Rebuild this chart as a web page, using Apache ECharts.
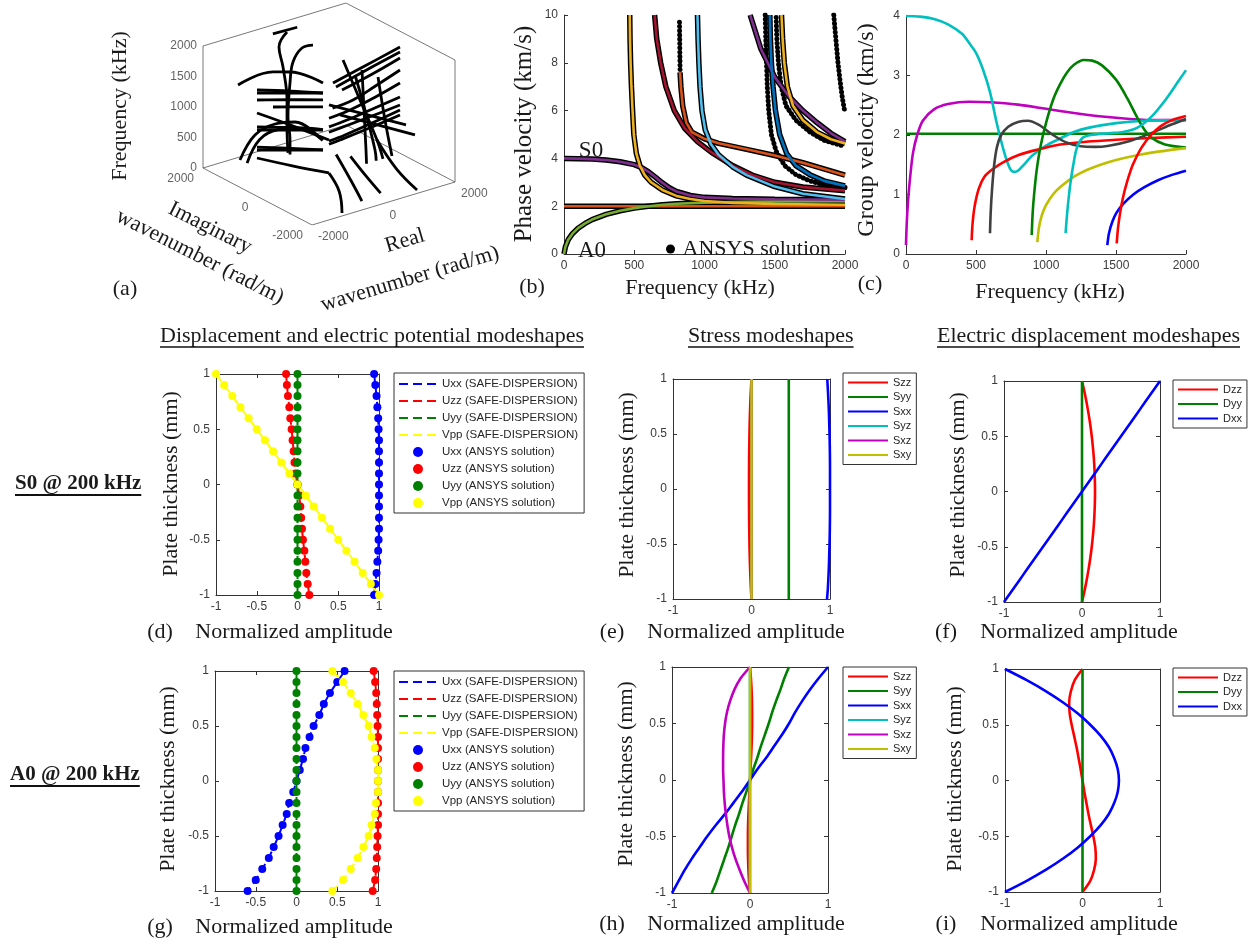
<!DOCTYPE html>
<html><head><meta charset="utf-8">
<script src="https://cdn.jsdelivr.net/npm/echarts@6/dist/echarts.min.js"></script>
<style>html,body{margin:0;padding:0;background:#fff}#c{width:1255px;height:944px}</style>
</head><body><div id="c"></div><script>
// ---------------- (a) 3D complex dispersion curves  [real k, imag k, frequency] ----------------
const aReRange = [-2000, 2000], aImRange = [-2000, 2000], aFRange = [0, 2000];
const aTickF = [0, 500, 1000, 1500, 2000];
const aTickIm = [-2000, 0, 2000];
const aTickRe = [-2000, 0, 2000];
const aModes = [
  [[112,0,1488],[1000,0,1610],[1986,0,1748]],
  [[196,0,1408],[1000,0,1530],[1986,0,1666]],
  [[364,0,1329],[1200,0,1440],[1986,0,1568]],
  [[100,0,1080],[671,0,1111],[1300,0,1230],[1986,0,1371]],
  [[0,0,930],[587,0,962],[1300,0,1050],[1986,0,1158]],
  [[0,0,790],[503,0,813],[1200,0,865],[1986,0,929]],
  [[0,0,700],[392,0,718],[1200,0,755],[1986,0,797]],
  [[0,0,555],[448,0,577],[1200,0,640],[1986,0,716]],
  [[0,0,505],[308,0,520],[1200,0,575],[1986,0,634]],
  [[-1444,1444,1393],[-889,889,1638],[-619,619,1653],[-95,95,1503]],
  [[-1143,1143,1328],[-600,600,1340],[-95,95,1339]],
  [[-1143,1143,1279],[-600,600,1310],[-95,95,1339]],
  [[-1143,1143,1164],[-600,600,1200],[-95,95,1225]],
  [[-889,889,1064],[-450,450,1090],[-95,95,1110]],
  [[-1143,1143,721],[-800,800,735],[-413,413,747],[-95,95,740]],
  [[-1143,1143,672],[-600,600,700],[-95,95,732]],
  [[-1143,1143,393],[-600,600,400],[-95,95,405]],
  [[-1143,1143,344],[-600,600,372],[-95,95,404]],
  [[-1143,1143,213],[-600,600,120],[0,0,33]],
  [[-1143,1143,951],[-600,600,780],[0,0,574]],
  [[-1413,1413,165],[-1175,1175,588],[-857,857,787],[-540,540,838],[-143,143,598]],
  [[-1300,1300,120],[-1100,1100,520],[-800,800,700],[-450,450,740],[-100,100,560]],
  [[0,1541,1984],[0,1835,1670],[0,1688,1376],[0,1541,869],[0,1541,427],[0,1505,10]],
  [[0,587,1993],[0,991,1850],[0,1321,1544],[0,1431,1174],[0,1505,600],[0,1431,240],[0,1430,0]],
  [[-350,1600,2000],[330,1600,1990]],
  [[392,0,1816],[867,0,1077],[1343,0,337],[1510,0,0]],
  [[727,0,1511],[1007,0,888],[1287,0,184],[1320,0,0]],
  [[923,0,1559],[979,0,893],[1035,0,228],[1050,0,0]],
  [[1371,0,1365],[1566,0,626],[1762,0,0]],
  [[0,0,30],[-400,-900,10],[-1060,-1868,0]],
  [[600,0,200],[500,-700,60],[300,-1500,0]],
  [[200,0,300],[0,-800,100],[-300,-1600,0]],
  [[1343,0,337],[1200,-900,100],[1054,-1848,0]],
  [[0,0,1150],[344,-960,1150],[688,-1923,1150]],
  [[308,0,930],[634,-948,930],[960,-1896,930]]
];
// ---------------- (b) phase velocity [kHz, km/s] ----------------
const bS0  = [[0,4.0],[100,3.99],[200,3.97],[300,3.93],[400,3.86],[500,3.74],[550,3.62],[600,3.45],[650,3.22],[700,2.98],[750,2.77],[800,2.62],[900,2.45],[1000,2.37],[1200,2.32],[1500,2.29],[2000,2.27]];
const bA0  = [[0,0],[10,0.3],[30,0.6],[60,0.85],[100,1.08],[150,1.28],[200,1.44],[300,1.66],[400,1.81],[500,1.92],[600,2.0],[700,2.06],[800,2.1],[1000,2.15],[1300,2.18],[1600,2.2],[2000,2.21]];
const bSH0 = [[0,2.0],[500,2.0],[1000,2.0],[1500,2.0],[2000,2.0]];
const bM1  = [[468,10],[470,9],[474,8],[480,7],[488,6],[497,5],[515,4.2],[540,3.7],[575,3.3],[620,3.0],[700,2.68],[800,2.43],[900,2.3],[1000,2.22],[1200,2.14],[1500,2.09],[2000,2.06]];
const bM2  = [[645,10],[660,9],[688,8],[725,7],[785,6],[860,5.25],[950,4.7],[1050,4.25],[1200,3.7],[1350,3.28],[1500,3.0],[1700,2.8],[2000,2.65]];
const bM3  = [[950,10],[954,9],[960,8],[968,7],[982,6],[1005,5.2],[1045,4.6],[1100,4.15],[1200,3.65],[1300,3.3],[1500,2.82],[1700,2.52],[2000,2.3]];
const bM4  = [[826,7.6],[832,7.0],[845,6.2],[870,5.5],[910,5.1],[1000,4.82],[1100,4.63],[1300,4.38],[1500,4.12],[1700,3.82],[1850,3.56],[2000,3.3]];
const bM5  = [[1325,10],[1400,8.6],[1500,7.4],[1600,6.6],[1700,6.0],[1800,5.5],[1900,5.05],[2000,4.7]];
const bM6  = [[1465,10],[1469,9],[1476,8],[1488,7],[1505,6],[1535,5],[1585,4.2],[1650,3.7],[1750,3.32],[1850,3.06],[2000,2.85]];
const bM7  = [[1548,10],[1556,9],[1568,8],[1590,7],[1630,6.2],[1700,5.6],[1800,5.1],[1900,4.8],[2000,4.62]];
const bK0  = [[822,9.7],[823,9.2],[824,8.7],[825,8.2],[826,7.7]];
const bK1  = [[1432,10],[1436,9],[1441,8],[1447,7],[1457,6],[1476,5],[1510,4.3],[1570,3.7],[1650,3.32],[1750,3.06],[1850,2.9],[2000,2.78]];
const bK2  = [[1510,9.9],[1515,9],[1526,8],[1546,7],[1580,6.2],[1650,5.6],[1750,5.1],[1850,4.76],[2000,4.5]];
const bK3  = [[1920,10],[1935,9],[1950,8],[1966,7.2],[1982,6.5],[2000,5.9]];
// ---------------- (c) group velocity [kHz, km/s] ----------------
const cCyan1 = [[0,4.0],[100,3.99],[200,3.95],[300,3.86],[400,3.7],[450,3.55],[500,3.38],[550,3.1],[600,2.72],[650,2.18],[700,1.72],[740,1.45],[770,1.38],[800,1.4],[850,1.52],[900,1.65],[1000,1.82],[1100,1.94],[1200,2.05],[1300,2.12],[1500,2.2],[1700,2.24],[2000,2.25]];
const cMag   = [[0,0.15],[5,0.5],[15,0.9],[30,1.3],[50,1.7],[80,2.0],[120,2.24],[200,2.43],[300,2.52],[450,2.56],[600,2.55],[800,2.51],[1000,2.44],[1200,2.37],[1400,2.31],[1600,2.27],[1800,2.25],[2000,2.25]];
const cGreen1 = [[0,2.02],[1000,2.02],[2000,2.02]];
const cGreen2 = [[898,0.32],[905,0.7],[915,1.0],[933,1.4],[960,1.8],[1000,2.2],[1052,2.6],[1100,2.85],[1150,3.05],[1200,3.18],[1270,3.26],[1330,3.25],[1400,3.17],[1500,2.93],[1580,2.62],[1650,2.3],[1700,2.1],[1750,1.96],[1850,1.84],[2000,1.79]];
const cGray  = [[600,0.35],[605,0.7],[615,1.1],[630,1.5],[650,1.8],[680,2.0],[730,2.14],[800,2.22],[870,2.24],[950,2.17],[1050,2.0],[1150,1.87],[1250,1.81],[1350,1.8],[1450,1.82],[1600,1.9],[1750,2.03],[1900,2.18],[2000,2.27]];
const cRed1  = [[469,0.23],[475,0.5],[490,0.8],[520,1.1],[560,1.3],[620,1.43],[700,1.55],[800,1.66],[933,1.75],[1100,1.84],[1300,1.89],[1500,1.92],[1750,1.95],[2000,1.97]];
const cOlive = [[938,0.2],[950,0.45],[970,0.65],[1000,0.82],[1050,1.0],[1100,1.12],[1200,1.3],[1300,1.42],[1400,1.51],[1500,1.58],[1650,1.66],[1800,1.72],[2000,1.78]];
const cBlue  = [[1438,0.15],[1450,0.35],[1475,0.55],[1505,0.7],[1550,0.84],[1624,1.0],[1700,1.12],[1800,1.24],[1900,1.33],[2000,1.4]];
const cRed2  = [[1505,0.18],[1515,0.45],[1530,0.7],[1550,0.95],[1580,1.22],[1620,1.5],[1680,1.78],[1750,2.0],[1820,2.15],[1900,2.25],[2000,2.32]];
const cCyan2 = [[1140,0.35],[1148,0.6],[1160,0.9],[1175,1.2],[1195,1.5],[1220,1.78],[1260,1.95],[1320,2.0],[1450,2.03],[1550,2.05],[1650,2.12],[1750,2.3],[1850,2.58],[1950,2.92],[2000,3.09]];
// ---------------- modeshapes: thickness levels (mm) ----------------
const yLev = [1,0.9,0.8,0.7,0.6,0.5,0.4,0.3,0.2,0.1,0,-0.1,-0.2,-0.3,-0.4,-0.5,-0.6,-0.7,-0.8,-0.9,-1];
const zeros = [0,0,0,0,0,0,0,0,0,0,0,0,0,0,0,0,0,0,0,0,0];
// (d) S0 displacement & potential
const dUxx = [0.94,0.955,0.97,0.98,0.99,0.995,1,1,1,1,1,1,1,1,1,0.995,0.99,0.98,0.97,0.955,0.94];
const dUzz = [-0.14,-0.13,-0.117,-0.1,-0.088,-0.072,-0.06,-0.047,-0.037,-0.025,0,0.022,0.035,0.045,0.055,0.067,0.084,0.096,0.108,0.125,0.145];
const dUyy = zeros;
const dVpp = [-1,-0.9,-0.8,-0.7,-0.6,-0.5,-0.4,-0.3,-0.2,-0.1,0,0.1,0.2,0.3,0.4,0.5,0.6,0.7,0.8,0.9,1];
// (g) A0 displacement & potential
const gUxx = [0.59,0.5,0.41,0.335,0.28,0.21,0.16,0.11,0.08,0.04,0,-0.04,-0.09,-0.12,-0.17,-0.22,-0.28,-0.34,-0.42,-0.5,-0.6];
const gUzz = [0.947,0.965,0.978,0.985,0.99,0.995,1,1,1,1,1,1,1,1,1,0.995,0.99,0.985,0.978,0.965,0.935];
const gUyy = zeros;
const gVpp = [0.44,0.57,0.665,0.75,0.82,0.885,0.92,0.96,0.98,1.0,1.0,1.0,0.975,0.96,0.92,0.885,0.82,0.75,0.665,0.57,0.44];
// (e) S0 stress
const eSzz = [0,-0.008,-0.014,-0.019,-0.023,-0.026,-0.028,-0.03,-0.031,-0.032,-0.032,-0.032,-0.031,-0.03,-0.028,-0.026,-0.023,-0.019,-0.014,-0.008,0];
const eSyy = [0.475,0.475,0.475,0.475,0.475,0.475,0.475,0.475,0.475,0.475,0.475,0.475,0.475,0.475,0.475,0.475,0.475,0.475,0.475,0.475,0.475];
const eSxx = [0.965,0.973,0.98,0.986,0.99,0.994,0.997,0.999,1,1,1,1,1,0.999,0.997,0.994,0.99,0.986,0.98,0.973,0.962];
const eSyz = zeros, eSxz = zeros, eSxy = zeros;
// (h) A0 stress
const hSzz = [0,0.012,0.02,0.025,0.027,0.027,0.025,0.02,0.014,0.007,0,-0.007,-0.014,-0.02,-0.025,-0.027,-0.027,-0.025,-0.02,-0.012,0];
const hSyy = [0.5,0.44,0.39,0.335,0.285,0.24,0.19,0.14,0.095,0.045,0,-0.045,-0.095,-0.14,-0.19,-0.235,-0.28,-0.33,-0.38,-0.43,-0.49];
const hSxx = [1,0.88,0.77,0.67,0.58,0.5,0.41,0.31,0.21,0.1,0,-0.1,-0.21,-0.32,-0.44,-0.55,-0.65,-0.75,-0.84,-0.92,-1];
const hSyz = zeros;
const hSxz = [0,-0.12,-0.2,-0.255,-0.295,-0.32,-0.335,-0.342,-0.345,-0.345,-0.34,-0.335,-0.325,-0.31,-0.29,-0.265,-0.23,-0.185,-0.13,-0.07,0];
const hSxy = zeros;
// (f) S0 electric displacement
const fDzz = [0,0.032,0.06,0.085,0.107,0.125,0.14,0.152,0.16,0.165,0.167,0.165,0.16,0.152,0.14,0.125,0.107,0.085,0.06,0.032,0];
const fDyy = zeros;
const fDxx = [1,0.9,0.8,0.7,0.6,0.5,0.4,0.3,0.2,0.1,0,-0.1,-0.2,-0.3,-0.4,-0.5,-0.6,-0.7,-0.8,-0.9,-1];
// (i) A0 electric displacement
const iDzz = [0,-0.1,-0.15,-0.172,-0.165,-0.14,-0.108,-0.077,-0.05,-0.024,0,0.024,0.05,0.077,0.108,0.14,0.165,0.172,0.15,0.1,0];
const iDyy = zeros;
const iDxx = [-1,-0.72,-0.47,-0.25,-0.06,0.1,0.235,0.34,0.41,0.455,0.47,0.455,0.41,0.34,0.235,0.1,-0.06,-0.25,-0.47,-0.72,-1];

// ---------------- layout / styles ----------------
const SERIF = "'Liberation Serif','Times New Roman',serif";
const SANS = "'Liberation Sans',Arial,sans-serif";
const AX = '#333333', LBL = '#3a3a3a', TXT = '#1a1a1a';
const MB = {blue:'#0072BD',orange:'#D95319',yellow:'#EDB120',purple:'#7E2F8E',green:'#77AC30',lblue:'#4DBEEE',dred:'#A2142F'};
const C = {b:'#0000FF',r:'#FF0000',g:'#008000',y:'#FFFF00',c:'#00BFBF',m:'#BF00BF',k:'#404040',o:'#BFBF00'};

function proj(p){
  const a=(p[0]-aReRange[0])/(aReRange[1]-aReRange[0]);
  const b=(p[1]-aImRange[0])/(aImRange[1]-aImRange[0]);
  const c=(p[2]-aFRange[0])/(aFRange[1]-aFRange[0]);
  return [109+143*a-109*b, 43*a+57*b+122*c];
}
const pair = (xs)=>xs.map((x,i)=>[x,yLev[i]]);

const grids=[], xAxis=[], yAxis=[], series=[], legends=[];
function addGrid(r){ grids.push(Object.assign({outerBoundsMode:'none', containLabel:false}, r)); return grids.length-1; }
const tickLbl = {color:LBL, fontSize:12, fontFamily:SANS, margin:6, formatter:(v)=>String(v)};

// (a)
const gA = addGrid({left:203, top:3, width:252, height:222});
xAxis.push({gridIndex:gA, type:'value', min:0, max:252, show:false});
yAxis.push({gridIndex:gA, type:'value', min:0, max:222, show:false});
const xa=xAxis.length-1, ya=yAxis.length-1;
const boxEdges = [
  [[-2000,2000,0],[-2000,-2000,0]], [[-2000,-2000,0],[2000,-2000,0]], [[-2000,2000,0],[-2000,2000,2000]],
  [[-2000,2000,0],[2000,2000,0]], [[2000,2000,0],[2000,-2000,0]],
  [[-2000,2000,2000],[2000,2000,2000]], [[2000,2000,2000],[2000,-2000,2000]], [[2000,-2000,0],[2000,-2000,2000]]
];
boxEdges.forEach(e=>series.push({type:'line', xAxisIndex:xa, yAxisIndex:ya, data:e.map(proj), symbol:'none', silent:true, lineStyle:{color:'#555', width:0.8}, z:1}));
aModes.forEach(m=>series.push({type:'line', xAxisIndex:xa, yAxisIndex:ya, data:m.map(proj), symbol:'none', smooth:0.4, silent:true, lineStyle:{color:'#000', width:2.8}, z:2}));
series.push({type:'scatter', xAxisIndex:xa, yAxisIndex:ya, symbolSize:0, silent:true,
  data:aTickF.map(f=>({value:proj([-2000,2000,f]), label:{formatter:String(f)}})),
  label:{show:true, position:'left', distance:6, color:LBL, fontSize:12, fontFamily:SANS}});
series.push({type:'scatter', xAxisIndex:xa, yAxisIndex:ya, symbolSize:0, silent:true,
  data:aTickIm.map(v=>({value:proj([-2000,v,0]), label:{formatter:String(v)}})),
  label:{show:true, position:'left', distance:9, offset:[0,11], color:LBL, fontSize:12, fontFamily:SANS}});
series.push({type:'scatter', xAxisIndex:xa, yAxisIndex:ya, symbolSize:0, silent:true,
  data:aTickRe.map(v=>({value:proj([v,-2000,0]), label:{formatter:String(v)}})),
  label:{show:true, position:'right', distance:6, offset:[0,12], color:LBL, fontSize:12, fontFamily:SANS}});

// (b)
const gB = addGrid({left:564, top:15, width:281, height:239});
xAxis.push({gridIndex:gB, type:'value', min:0, max:2000, interval:500, axisLine:{onZero:false, lineStyle:{color:AX}}, axisTick:{inside:true, length:4, lineStyle:{color:AX}}, axisLabel:tickLbl, splitLine:{show:false}});
yAxis.push({gridIndex:gB, type:'value', min:0, max:10, interval:2, axisLine:{show:true, onZero:false, lineStyle:{color:AX}}, axisTick:{inside:true, length:4, lineStyle:{color:AX}}, axisLabel:tickLbl, splitLine:{show:false}});
const xb=xAxis.length-1, yb=yAxis.length-1;
const bCurves = [[bSH0,MB.orange],[bA0,MB.green],[bS0,MB.purple],[bM1,MB.yellow],[bM2,MB.dred],[bM4,MB.orange],[bM3,MB.lblue],[bM5,MB.purple],[bM6,MB.blue],[bM7,MB.yellow]];
bCurves.forEach(([d])=>series.push({type:'line', name:'ANSYS solution', xAxisIndex:xb, yAxisIndex:yb, data:d, symbol:'none', silent:true, lineStyle:{color:'#000', width:5.5}, itemStyle:{color:'#000'}, z:2}));
[bK0,bK1,bK2,bK3].forEach(d=>series.push({type:'line', name:'ANSYS solution', xAxisIndex:xb, yAxisIndex:yb, data:d, symbol:'none', silent:true, lineStyle:{color:'#000', width:5, type:[0.1,4.2], cap:'round'}, itemStyle:{color:'#000'}, z:2}));
bCurves.forEach(([d,c])=>series.push({type:'line', xAxisIndex:xb, yAxisIndex:yb, data:d, symbol:'none', silent:true, lineStyle:{color:c, width:2.6}, z:3}));
legends.push({left:666, top:238, orient:'vertical', selectedMode:false, padding:0, itemWidth:14, itemHeight:9,
  data:[{name:'ANSYS solution', icon:'circle', itemStyle:{color:'#000', opacity:1}}], textStyle:{fontFamily:SERIF, fontSize:22, color:TXT}});

// (c)
const gC = addGrid({left:906, top:16, width:280, height:238});
xAxis.push({gridIndex:gC, type:'value', min:0, max:2000, interval:500, axisLine:{onZero:false, lineStyle:{color:AX}}, axisTick:{inside:true, length:4, lineStyle:{color:AX}}, axisLabel:tickLbl, splitLine:{show:false}});
yAxis.push({gridIndex:gC, type:'value', min:0, max:4, interval:1, axisLine:{show:true, onZero:false, lineStyle:{color:AX}}, axisTick:{inside:true, length:4, lineStyle:{color:AX}}, axisLabel:tickLbl, splitLine:{show:false}});
const xc=xAxis.length-1, yc=yAxis.length-1;
[[cGreen1,C.g],[cMag,C.m],[cCyan1,C.c],[cRed1,C.r],[cGray,C.k],[cGreen2,C.g],[cOlive,C.o],[cCyan2,C.c],[cBlue,C.b],[cRed2,C.r]]
  .forEach(([d,c])=>series.push({type:'line', xAxisIndex:xc, yAxisIndex:yc, data:d, symbol:'none', smooth:0.3, silent:true, lineStyle:{color:c, width:2.6}, z:3}));

// boxed modeshape panels
function boxPanel(rect, xInt){
  const g = addGrid(rect);
  const common = {gridIndex:g, type:'value', min:-1, max:1, splitLine:{show:false},
    axisLine:{show:true, onZero:false, lineStyle:{color:AX, width:1}}, axisTick:{show:true, inside:true, length:4, lineStyle:{color:AX}}};
  xAxis.push(Object.assign({}, common, {interval:xInt, position:'bottom', axisLabel:tickLbl}));
  const xi = xAxis.length-1;
  xAxis.push(Object.assign({}, common, {interval:xInt, position:'top', axisLabel:{show:false}}));
  yAxis.push(Object.assign({}, common, {interval:0.5, position:'left', axisLabel:tickLbl}));
  const yi = yAxis.length-1;
  yAxis.push(Object.assign({}, common, {interval:0.5, position:'right', axisLabel:{show:false}}));
  return [xi, yi];
}
const hideSym = {opacity:0};
function dispPanel(rect, arr, legTop){
  const [xi, yi] = boxPanel(rect, 0.5);
  const names = ['Uxx','Uzz','Uyy','Vpp'], cols=[C.b,C.r,C.g,C.y];
  arr.forEach((a,k)=>series.push({type:'line', name:names[k]+' (SAFE-DISPERSION)', xAxisIndex:xi, yAxisIndex:yi, data:pair(a), symbol:'none', silent:true, lineStyle:{color:cols[k], width:2, type:[9,5]}, itemStyle:{color:cols[k]}, z:3}));
  arr.forEach((a,k)=>series.push({type:'scatter', name:names[k]+' (ANSYS solution)', xAxisIndex:xi, yAxisIndex:yi, data:pair(a), symbol:'circle', symbolSize:8, silent:true, itemStyle:{color:cols[k], opacity:1}, z:4}));
  legends.push({left:394, top:legTop, orient:'vertical', selectedMode:false, itemWidth:38, itemHeight:10, itemGap:5,
    padding:[5,6,4,4], borderColor:AX, borderWidth:1, backgroundColor:'#fff',
    data:names.map(n=>({name:n+' (SAFE-DISPERSION)', itemStyle:hideSym})).concat(names.map(n=>({name:n+' (ANSYS solution)', icon:'circle'}))),
    textStyle:{fontFamily:SANS, fontSize:11.5, color:'#262626'}});
}
function linePanel(rect, arr, names, cols, legLeft, legTop){
  const [xi, yi] = boxPanel(rect, 1);
  arr.forEach((a,k)=>series.push({type:'line', name:names[k], xAxisIndex:xi, yAxisIndex:yi, data:pair(a), symbol:'none', smooth:0.3, silent:true, lineStyle:{color:cols[k], width:2.6}, itemStyle:{color:cols[k]}, z:3}));
  legends.push({left:legLeft, top:legTop, orient:'vertical', selectedMode:false, itemWidth:40, itemHeight:10, itemGap:3.5,
    padding:[4,5,4,4], borderColor:AX, borderWidth:1, backgroundColor:'#fff',
    data:names.map(n=>({name:n, itemStyle:hideSym})), textStyle:{fontFamily:SANS, fontSize:11, color:'#262626'}});
}
const sNames = ['Szz','Syy','Sxx','Syz','Sxz','Sxy'], sCols=[C.r,C.g,C.b,C.c,C.m,C.o];
const dNames = ['Dzz','Dyy','Dxx'], dCols=[C.r,C.g,C.b];
dispPanel({left:216, top:374, width:163, height:221}, [dUxx,dUzz,dUyy,dVpp], 373);
linePanel({left:673, top:379, width:157, height:220}, [eSzz,eSyy,eSxx,eSyz,eSxz,eSxy], sNames, sCols, 843, 373);
linePanel({left:1004, top:381, width:156, height:221}, [fDzz,fDyy,fDxx], dNames, dCols, 1173, 380);
dispPanel({left:215, top:671, width:163, height:220}, [gUxx,gUzz,gUyy,gVpp], 671);
linePanel({left:672, top:667, width:156, height:226}, [hSzz,hSyy,hSxx,hSyz,hSxz,hSxy], sNames, sCols, 843, 667);
linePanel({left:1005, top:669, width:155, height:223}, [iDzz,iDyy,iDxx], dNames, dCols, 1173, 668);

// ---------------- text ----------------
const mctx = document.createElement('canvas').getContext('2d');
function textW(t, size, fam, bold){ mctx.font = (bold?'bold ':'')+size+'px '+fam; return mctx.measureText(t).width; }
function T(text, x, y, size, opt){
  opt = opt || {};
  return {type:'text', x, y, rotation:opt.rot||0, silent:true, z:10,
    style:{text, fill:opt.fill||TXT, fontFamily:opt.fam||SERIF, fontSize:size, fontWeight:opt.bold?'bold':'normal',
      align:opt.align||'center', verticalAlign:'middle'}};
}
function U(x1,x2,y,w){ return {type:'line', silent:true, z:10, shape:{x1,y1:y,x2,y2:y}, style:{stroke:'#111', lineWidth:w||1.4}}; }
function header(text, x0, y, size, bold){
  const w = textW(text, size, SERIF, bold);
  return [T(text, x0, y, size, {align:'left', bold}), U(x0, x0+w, y+11, bold?1.8:1.4)];
}
const graphic = [
  T('Frequency (kHz)', 120, 106, 22, {rot:Math.PI/2}),
  T('Imaginary', 210, 228, 22, {rot:-0.47}),
  T('wavenumber (rad/m)', 200, 257, 22, {rot:-0.47}),
  T('Real', 405, 241, 22, {rot:0.29}),
  T('wavenumber (rad/m)', 410, 279, 22, {rot:0.29}),
  T('(a)', 125, 289, 22),
  T('Phase velocity (km/s)', 524, 134, 25, {rot:Math.PI/2}),
  T('Frequency (kHz)', 700, 288, 22),
  T('(b)', 532, 287, 22),
  T('S0', 591, 151, 23),
  T('A0', 592, 251, 23),
  T('Group velocity (km/s)', 867, 130, 24, {rot:Math.PI/2}),
  T('Frequency (kHz)', 1050, 292, 22),
  T('(c)', 870, 284, 22),
  ...header('Displacement and electric potential modeshapes', 160, 336, 22),
  ...header('Stress modeshapes', 688, 336, 22),
  ...header('Electric displacement modeshapes', 937, 336, 22),
  ...header('S0 @ 200 kHz', 15, 484, 21, true),
  ...header('A0 @ 200 kHz', 10, 775, 21, true),
  T('Plate thickness (mm)', 171, 484, 22, {rot:Math.PI/2}),
  T('Normalized amplitude', 294, 632, 22),
  T('(d)', 160, 632, 22),
  T('Plate thickness (mm)', 627, 485, 22, {rot:Math.PI/2}),
  T('Normalized amplitude', 746, 632, 22),
  T('(e)', 612, 632, 22),
  T('Plate thickness (mm)', 958, 485, 22, {rot:Math.PI/2}),
  T('Normalized amplitude', 1079, 632, 22),
  T('(f)', 946, 632, 22),
  T('Plate thickness (mm)', 168, 779, 22, {rot:Math.PI/2}),
  T('Normalized amplitude', 294, 927, 22),
  T('(g)', 160, 927, 22),
  T('Plate thickness (mm)', 626, 774, 22, {rot:Math.PI/2}),
  T('Normalized amplitude', 746, 924, 22),
  T('(h)', 612, 924, 22),
  T('Plate thickness (mm)', 955, 779, 22, {rot:Math.PI/2}),
  T('Normalized amplitude', 1079, 924, 22),
  T('(i)', 946, 924, 22)
];

const chart = echarts.init(document.getElementById('c'), null, {renderer:'canvas'});
chart.setOption({animation:false, backgroundColor:'#fff', grid:grids, xAxis, yAxis, series, legend:legends, graphic});
</script></body></html>
